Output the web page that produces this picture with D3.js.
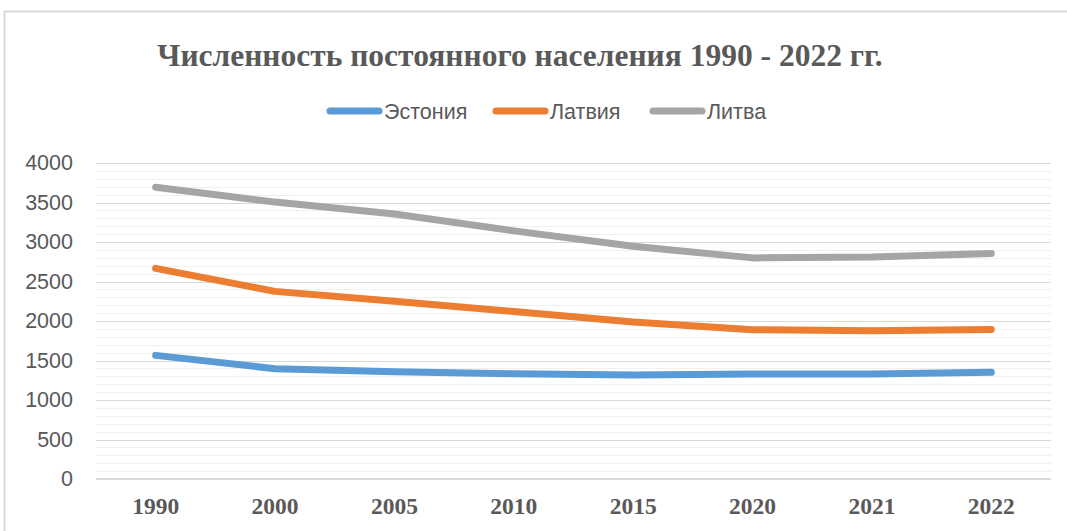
<!DOCTYPE html>
<html>
<head>
<meta charset="utf-8">
<script src="https://cdn.jsdelivr.net/npm/d3@7"></script>
<style>
  body { margin: 0; background: #fff; }
  svg { display: block; }
</style>
</head>
<body>
<svg id="chart" width="1067" height="531"></svg>
<script>
"use strict";

var years = ["1990", "2000", "2005", "2010", "2015", "2020", "2021", "2022"];
var estonia = [1565, 1396, 1358, 1333, 1316, 1329, 1330, 1350];
var latvia = [2666, 2375, 2249, 2120, 1988, 1890, 1877, 1893];
var lithuania = [3694, 3505, 3355, 3141, 2946, 2799, 2810, 2855];
var seriesNames = ["Эстония", "Латвия", "Литва"];
var seriesColors = ["#5b9bd5", "#ed7d31", "#a5a5a5"];
var yTicks = [0, 500, 1000, 1500, 2000, 2500, 3000, 3500, 4000];
var title = "Численность постоянного населения 1990 - 2022 гг.";

var series = [estonia, latvia, lithuania];

var svg = d3.select("#chart");
var plot = {left: 96, right: 1051, top: 163, bottom: 479};

// outer frame (runs off the right/bottom of the picture)
svg.append("rect")
	.attr("x", 4.5).attr("y", 11.5)
	.attr("width", 1080).attr("height", 540)
	.attr("fill", "#fff")
	.attr("stroke", "#d9d9d9")
	.attr("stroke-width", 2);

var x = d3.scaleBand().domain(years).range([plot.left, plot.right]);
var y = d3.scaleLinear().domain([0, 4000]).range([plot.bottom, plot.top]);

// minor grid every 100
var minor = d3.range(100, 4000, 100).filter(function(v){ return v % 500 != 0; });
svg.append("g").selectAll("line").data(minor).enter().append("line")
	.attr("x1", plot.left).attr("x2", plot.right)
	.attr("y1", function(d){ return Math.round(y(d)) + 0.5; })
	.attr("y2", function(d){ return Math.round(y(d)) + 0.5; })
	.attr("stroke", "#f0f0f0").attr("stroke-width", 1);

// major grid
svg.append("g").selectAll("line").data(yTicks.slice(1)).enter().append("line")
	.attr("x1", plot.left).attr("x2", plot.right)
	.attr("y1", function(d){ return Math.round(y(d)) + 0.5; })
	.attr("y2", function(d){ return Math.round(y(d)) + 0.5; })
	.attr("stroke", "#d9d9d9").attr("stroke-width", 1);

// category axis line
svg.append("line")
	.attr("x1", plot.left).attr("x2", plot.right)
	.attr("y1", y(0)).attr("y2", y(0))
	.attr("stroke", "#d9d9d9").attr("stroke-width", 2);

// y labels
var yAxis = svg.append("g")
	.attr("transform", "translate(" + (plot.left - 23) + ",0)")
	.call(d3.axisLeft(y).tickValues(yTicks).tickSize(0).tickPadding(0).tickFormat(d3.format("d")));
yAxis.select(".domain").remove();
yAxis.selectAll("text")
	.attr("font-family", "'Liberation Sans', Arial, sans-serif")
	.attr("font-size", 21.5)
	.attr("fill", "#595959");

// x labels
var xAxis = svg.append("g")
	.attr("transform", "translate(0," + y(0) + ")")
	.call(d3.axisBottom(x).tickSize(0).tickPadding(18));
xAxis.select(".domain").remove();
xAxis.selectAll("text")
	.attr("font-family", "'Liberation Serif', 'Times New Roman', serif")
	.attr("font-weight", "bold")
	.attr("font-size", 23.5)
	.attr("fill", "#595959");

// lines
var line = d3.line()
	.x(function(d, i){ return x(years[i]) + x.bandwidth() / 2; })
	.y(function(d){ return y(d); });

svg.append("g").selectAll("path").data(series).enter().append("path")
	.attr("d", line)
	.attr("fill", "none")
	.attr("stroke", function(d, i){ return seriesColors[i]; })
	.attr("stroke-width", 7)
	.attr("stroke-linecap", "round")
	.attr("stroke-linejoin", "round");

// title
svg.append("text")
	.attr("x", 520).attr("y", 66)
	.attr("text-anchor", "middle")
	.attr("font-family", "'Liberation Serif', 'Times New Roman', serif")
	.attr("font-weight", "bold")
	.attr("font-size", 31.5)
	.attr("fill", "#595959")
	.text(title);

// legend
var legendX = [327, 493, 650];
var leg = svg.append("g").selectAll("g").data(seriesNames).enter().append("g")
	.attr("transform", function(d, i){ return "translate(" + legendX[i] + ",111)"; });
leg.append("line")
	.attr("x1", 3).attr("x2", 52)
	.attr("stroke", function(d, i){ return seriesColors[i]; })
	.attr("stroke-width", 7)
	.attr("stroke-linecap", "round");
leg.append("text")
	.attr("x", 57).attr("y", 7.5)
	.attr("font-family", "'Liberation Sans', Arial, sans-serif")
	.attr("font-size", 21.5)
	.attr("fill", "#595959")
	.text(function(d){ return d; });
</script>
</body>
</html>
